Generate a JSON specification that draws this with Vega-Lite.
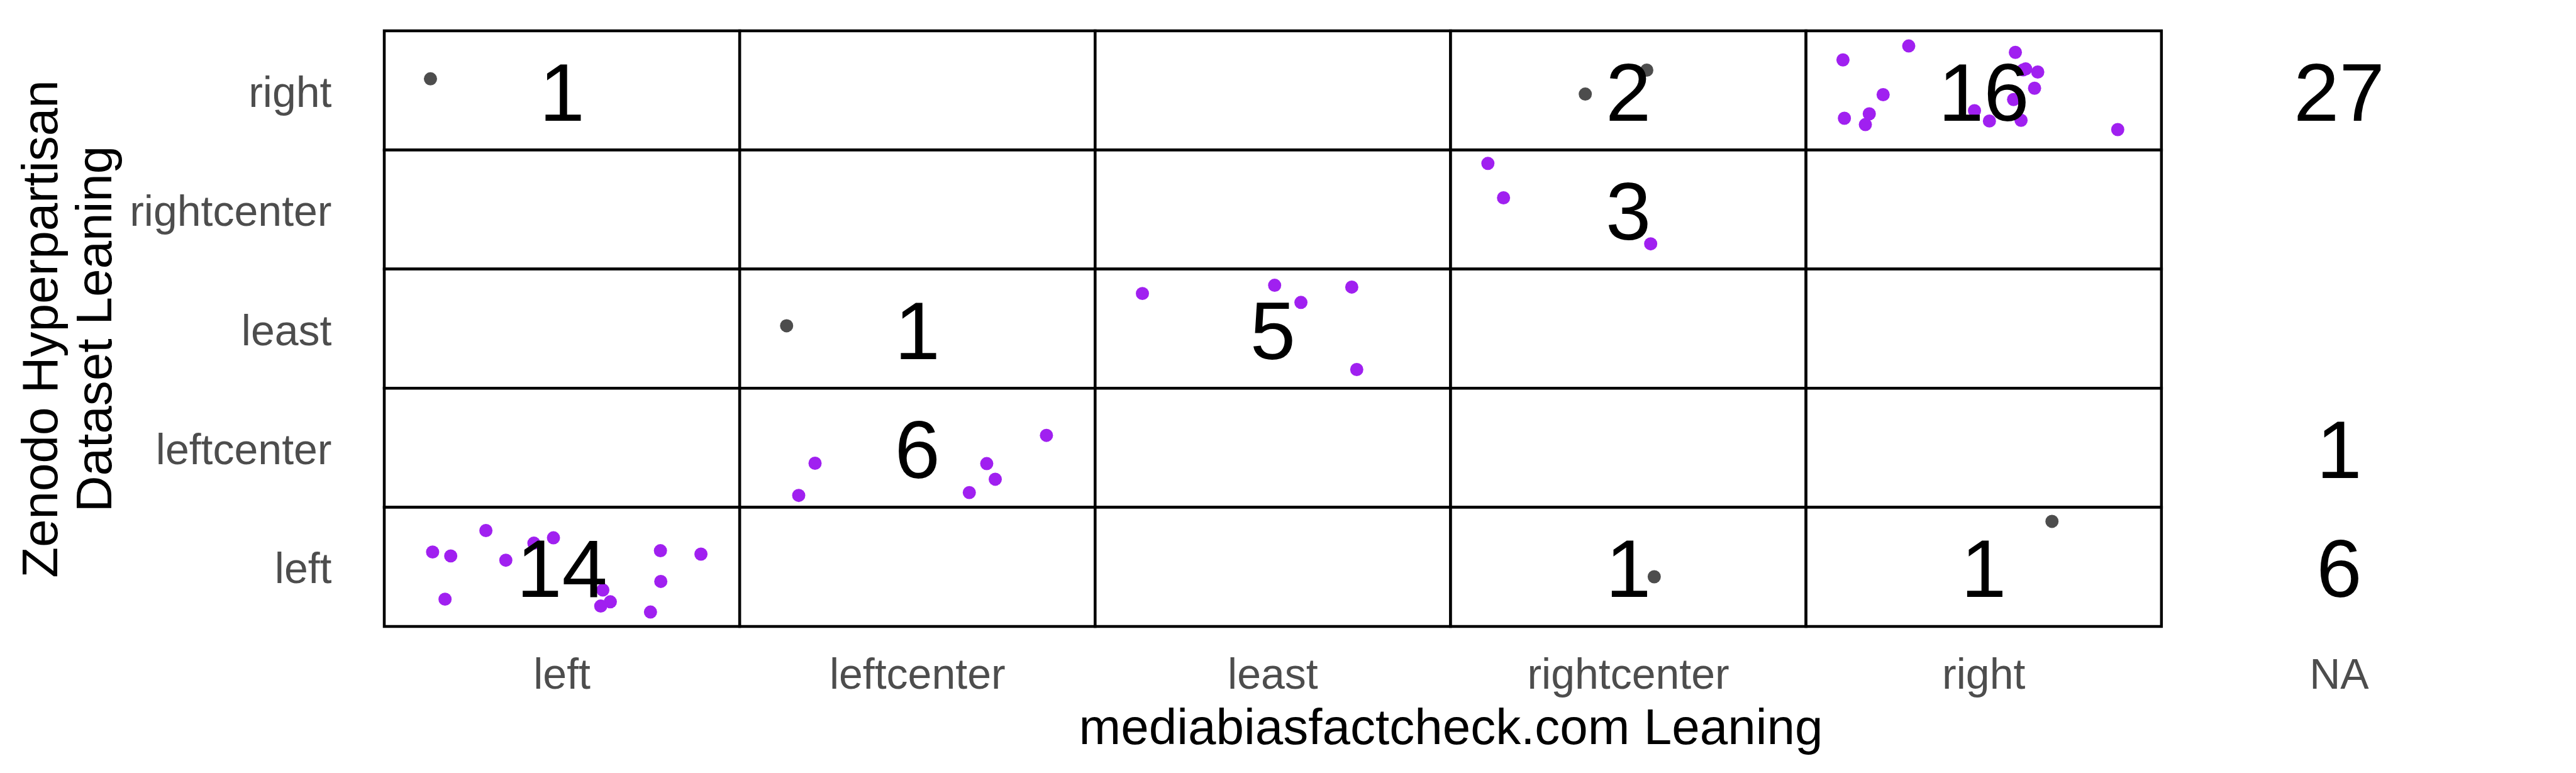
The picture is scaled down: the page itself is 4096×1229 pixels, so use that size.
{
  "$schema": "https://vega.github.io/schema/vega-lite/v6.json",
  "width": 3391,
  "height": 947,
  "autosize": {"type": "none"},
  "padding": {"left": 611, "top": 49, "right": 94, "bottom": 233},
  "background": "white",
  "config": {"view": {"stroke": null}, "font": "Liberation Sans"},
  "datasets": {
    "cells": [
      {"mbfc": "left", "zen": "right"}, {"mbfc": "leftcenter", "zen": "right"}, {"mbfc": "least", "zen": "right"}, {"mbfc": "rightcenter", "zen": "right"}, {"mbfc": "right", "zen": "right"},
      {"mbfc": "left", "zen": "rightcenter"}, {"mbfc": "leftcenter", "zen": "rightcenter"}, {"mbfc": "least", "zen": "rightcenter"}, {"mbfc": "rightcenter", "zen": "rightcenter"}, {"mbfc": "right", "zen": "rightcenter"},
      {"mbfc": "left", "zen": "least"}, {"mbfc": "leftcenter", "zen": "least"}, {"mbfc": "least", "zen": "least"}, {"mbfc": "rightcenter", "zen": "least"}, {"mbfc": "right", "zen": "least"},
      {"mbfc": "left", "zen": "leftcenter"}, {"mbfc": "leftcenter", "zen": "leftcenter"}, {"mbfc": "least", "zen": "leftcenter"}, {"mbfc": "rightcenter", "zen": "leftcenter"}, {"mbfc": "right", "zen": "leftcenter"},
      {"mbfc": "left", "zen": "left"}, {"mbfc": "leftcenter", "zen": "left"}, {"mbfc": "least", "zen": "left"}, {"mbfc": "rightcenter", "zen": "left"}, {"mbfc": "right", "zen": "left"}
    ],
    "points": [
      {"mbfc": "left", "zen": "right", "match": "different", "jx": -0.370, "jy": 0.097},
      {"mbfc": "rightcenter", "zen": "right", "match": "different", "jx": -0.121, "jy": -0.031},
      {"mbfc": "rightcenter", "zen": "right", "match": "different", "jx": 0.052, "jy": 0.170},
      {"mbfc": "right", "zen": "right", "match": "same", "jx": -0.396, "jy": 0.256},
      {"mbfc": "right", "zen": "right", "match": "same", "jx": -0.211, "jy": 0.373},
      {"mbfc": "right", "zen": "right", "match": "same", "jx": 0.089, "jy": 0.319},
      {"mbfc": "right", "zen": "right", "match": "same", "jx": 0.111, "jy": 0.172},
      {"mbfc": "right", "zen": "right", "match": "same", "jx": 0.118, "jy": 0.180},
      {"mbfc": "right", "zen": "right", "match": "same", "jx": 0.152, "jy": 0.154},
      {"mbfc": "right", "zen": "right", "match": "same", "jx": 0.143, "jy": 0.018},
      {"mbfc": "right", "zen": "right", "match": "same", "jx": 0.084, "jy": -0.077},
      {"mbfc": "right", "zen": "right", "match": "same", "jx": -0.283, "jy": -0.036},
      {"mbfc": "right", "zen": "right", "match": "same", "jx": -0.322, "jy": -0.197},
      {"mbfc": "right", "zen": "right", "match": "same", "jx": -0.392, "jy": -0.234},
      {"mbfc": "right", "zen": "right", "match": "same", "jx": -0.333, "jy": -0.287},
      {"mbfc": "right", "zen": "right", "match": "same", "jx": -0.026, "jy": -0.170},
      {"mbfc": "right", "zen": "right", "match": "same", "jx": 0.016, "jy": -0.257},
      {"mbfc": "right", "zen": "right", "match": "same", "jx": 0.105, "jy": -0.251},
      {"mbfc": "right", "zen": "right", "match": "same", "jx": 0.377, "jy": -0.329},
      {"mbfc": "rightcenter", "zen": "rightcenter", "match": "same", "jx": -0.395, "jy": 0.387},
      {"mbfc": "rightcenter", "zen": "rightcenter", "match": "same", "jx": -0.351, "jy": 0.098},
      {"mbfc": "rightcenter", "zen": "rightcenter", "match": "same", "jx": 0.063, "jy": -0.288},
      {"mbfc": "leftcenter", "zen": "least", "match": "different", "jx": -0.368, "jy": 0.024},
      {"mbfc": "least", "zen": "least", "match": "same", "jx": -0.367, "jy": 0.295},
      {"mbfc": "least", "zen": "least", "match": "same", "jx": 0.005, "jy": 0.364},
      {"mbfc": "least", "zen": "least", "match": "same", "jx": 0.079, "jy": 0.220},
      {"mbfc": "least", "zen": "least", "match": "same", "jx": 0.222, "jy": 0.349},
      {"mbfc": "least", "zen": "least", "match": "same", "jx": 0.236, "jy": -0.343},
      {"mbfc": "leftcenter", "zen": "leftcenter", "match": "same", "jx": -0.288, "jy": -0.130},
      {"mbfc": "leftcenter", "zen": "leftcenter", "match": "same", "jx": -0.334, "jy": -0.400},
      {"mbfc": "leftcenter", "zen": "leftcenter", "match": "same", "jx": 0.195, "jy": -0.133},
      {"mbfc": "leftcenter", "zen": "leftcenter", "match": "same", "jx": 0.219, "jy": -0.264},
      {"mbfc": "leftcenter", "zen": "leftcenter", "match": "same", "jx": 0.146, "jy": -0.376},
      {"mbfc": "leftcenter", "zen": "leftcenter", "match": "same", "jx": 0.363, "jy": 0.104},
      {"mbfc": "left", "zen": "left", "match": "same", "jx": -0.364, "jy": 0.125},
      {"mbfc": "left", "zen": "left", "match": "same", "jx": -0.313, "jy": 0.092},
      {"mbfc": "left", "zen": "left", "match": "same", "jx": -0.214, "jy": 0.305},
      {"mbfc": "left", "zen": "left", "match": "same", "jx": -0.158, "jy": 0.056},
      {"mbfc": "left", "zen": "left", "match": "same", "jx": -0.079, "jy": 0.199},
      {"mbfc": "left", "zen": "left", "match": "same", "jx": -0.024, "jy": 0.244},
      {"mbfc": "left", "zen": "left", "match": "same", "jx": -0.329, "jy": -0.271},
      {"mbfc": "left", "zen": "left", "match": "same", "jx": 0.115, "jy": -0.194},
      {"mbfc": "left", "zen": "left", "match": "same", "jx": 0.136, "jy": -0.293},
      {"mbfc": "left", "zen": "left", "match": "same", "jx": 0.109, "jy": -0.329},
      {"mbfc": "left", "zen": "left", "match": "same", "jx": 0.249, "jy": -0.379},
      {"mbfc": "left", "zen": "left", "match": "same", "jx": 0.277, "jy": 0.136},
      {"mbfc": "left", "zen": "left", "match": "same", "jx": 0.278, "jy": -0.122},
      {"mbfc": "left", "zen": "left", "match": "same", "jx": 0.391, "jy": 0.107},
      {"mbfc": "rightcenter", "zen": "left", "match": "different", "jx": 0.073, "jy": -0.083},
      {"mbfc": "right", "zen": "left", "match": "different", "jx": 0.192, "jy": 0.382}
    ],
    "counts": [
      {"mbfc": "left", "zen": "right", "n": 1},
      {"mbfc": "rightcenter", "zen": "right", "n": 2},
      {"mbfc": "right", "zen": "right", "n": 16},
      {"mbfc": "NA", "zen": "right", "n": 27},
      {"mbfc": "rightcenter", "zen": "rightcenter", "n": 3},
      {"mbfc": "leftcenter", "zen": "least", "n": 1},
      {"mbfc": "least", "zen": "least", "n": 5},
      {"mbfc": "leftcenter", "zen": "leftcenter", "n": 6},
      {"mbfc": "NA", "zen": "leftcenter", "n": 1},
      {"mbfc": "left", "zen": "left", "n": 14},
      {"mbfc": "rightcenter", "zen": "left", "n": 1},
      {"mbfc": "right", "zen": "left", "n": 1},
      {"mbfc": "NA", "zen": "left", "n": 6}
    ]
  },
  "encoding": {
    "x": {
      "field": "mbfc", "type": "nominal",
      "scale": {"domain": ["left", "leftcenter", "least", "rightcenter", "right", "NA"], "paddingInner": 0, "paddingOuter": 0},
      "axis": {
        "orient": "bottom", "domain": false, "ticks": false, "tickSize": 0, "grid": false,
        "labelFont": "Liberation Sans", "labelFontSize": 68, "labelColor": "#4D4D4D", "labelLimit": 0,
        "labelBaseline": "alphabetic", "labelPadding": 98, "labelAngle": 0,
        "title": "mediabiasfactcheck.com Leaning",
        "titleFont": "Liberation Sans", "titleFontSize": 80, "titleFontWeight": "normal", "titleColor": "black",
        "titleBaseline": "alphabetic", "titleAlign": "center", "titleX": 1695.5, "titleY": 186
      }
    },
    "y": {
      "field": "zen", "type": "nominal",
      "scale": {"domain": ["right", "rightcenter", "least", "leftcenter", "left"], "paddingInner": 0, "paddingOuter": 0},
      "axis": {
        "domain": false, "ticks": false, "tickSize": 0, "grid": false,
        "labelFont": "Liberation Sans", "labelFontSize": 68, "labelColor": "#4D4D4D", "labelLimit": 0,
        "labelBaseline": "middle", "labelOffset": 6, "labelPadding": 84,
        "title": ["Zenodo Hyperpartisan", "Dataset Leaning"],
        "titleFont": "Liberation Sans", "titleFontSize": 80, "titleFontWeight": "normal", "titleColor": "black",
        "titleAngle": -90, "titleBaseline": "alphabetic", "titleAlign": "center", "titleLineHeight": 86,
        "titleX": -521, "titleY": 473.5
      }
    }
  },
  "resolve": {"scale": {"xOffset": "independent", "yOffset": "independent"}},
  "layer": [
    {
      "data": {"name": "cells"},
      "mark": {"type": "rect", "fill": "white", "stroke": "black", "strokeWidth": 4.5}
    },
    {
      "data": {"name": "points"},
      "mark": {"type": "circle", "size": 440, "opacity": 1},
      "encoding": {
        "xOffset": {"field": "jx", "type": "quantitative", "scale": {"domain": [-0.5, 0.5]}},
        "yOffset": {"field": "jy", "type": "quantitative", "scale": {"domain": [-0.5, 0.5], "reverse": true}},
        "color": {"field": "match", "type": "nominal", "scale": {"domain": ["same", "different"], "range": ["#A020F0", "#4D4D4D"]}, "legend": null}
      }
    },
    {
      "data": {"name": "counts"},
      "mark": {"type": "text", "font": "Liberation Sans", "fontSize": 130, "baseline": "alphabetic", "dy": 48, "align": "center", "color": "black"},
      "encoding": {
        "text": {"field": "n", "type": "quantitative"}
      }
    }
  ]
}
